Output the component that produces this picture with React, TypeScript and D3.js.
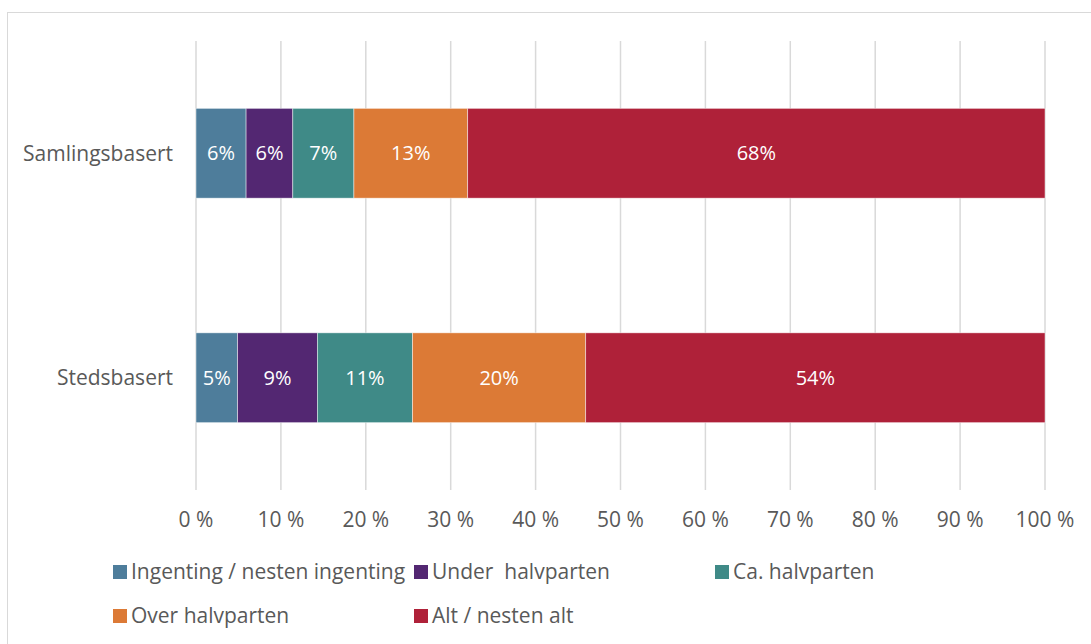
import React, { useEffect, useRef } from 'react';
import * as d3 from 'd3';

const categories = ['Samlingsbasert', 'Stedsbasert'];
const seriesNames = ['Ingenting / nesten ingenting', 'Under  halvparten', 'Ca. halvparten', 'Over halvparten', 'Alt / nesten alt'];
const seriesColors = ['#4E7D9B', '#532772', '#3F8A87', '#DC7A36', '#AF2139'];
// share per category, in series order
const samlingsbasert = [5.9, 5.5, 7.2, 13.4, 68.0];
const stedsbasert = [4.9, 9.4, 11.2, 20.4, 54.1];
const labelsSamling = ['6%', '6%', '7%', '13%', '68%'];
const labelsSteds = ['5%', '9%', '11%', '20%', '54%'];
const xTicks = [0, 10, 20, 30, 40, 50, 60, 70, 80, 90, 100];

const W = 1091;
const H = 644;
const FONT = '"Open Sans", sans-serif';
const FS = 21;

export default function App() {
  const ref = useRef<SVGSVGElement>(null);

  useEffect(() => {
    const svg = d3.select(ref.current);
    svg.selectAll('*').remove();

    const left = 196, right = 1045, top = 41, bottom = 490;
    const x = d3.scaleLinear().domain([0, 100]).range([left, right]);
    const y = d3.scaleBand().domain(categories).range([top, bottom]).paddingInner(0.6).paddingOuter(0.3);

    // chart frame
    svg.append('rect')
      .attr('x', 7.5).attr('y', 12.5).attr('width', W).attr('height', H)
      .attr('fill', 'white').attr('stroke', '#D9D9D9').attr('stroke-width', 1);

    // gridlines
    svg.append('g').selectAll('line').data(xTicks).enter().append('line')
      .attr('x1', d => x(d)).attr('x2', d => x(d))
      .attr('y1', top).attr('y2', bottom)
      .attr('stroke', '#D9D9D9').attr('stroke-width', 1.5);

    const rows = [
      { cat: categories[0], values: samlingsbasert, labels: labelsSamling },
      { cat: categories[1], values: stedsbasert, labels: labelsSteds },
    ];

    rows.forEach(row => {
      let acc = 0;
      const segs = row.values.map((v, i) => {
        const s = { x0: acc, x1: acc + v, color: seriesColors[i], label: row.labels[i] };
        acc += v;
        return s;
      });
      const g = svg.append('g');
      g.selectAll('rect').data(segs).enter().append('rect')
        .attr('x', d => x(d.x0)).attr('width', d => x(d.x1) - x(d.x0))
        .attr('y', y(row.cat)!).attr('height', y.bandwidth())
        .attr('fill', d => d.color)
        .attr('stroke', 'rgba(255,255,255,0.6)').attr('stroke-width', 0.75);
      g.selectAll('text').data(segs).enter().append('text')
        .attr('x', d => (x(d.x0) + x(d.x1)) / 2)
        .attr('y', y(row.cat)! + y.bandwidth() / 2)
        .attr('dy', '0.35em')
        .attr('text-anchor', 'middle')
        .attr('fill', 'white')
        .attr('font-size', FS - 1)
        .attr('font-family', FONT)
        .text(d => d.label);
    });

    // category labels
    svg.append('g').selectAll('text').data(categories).enter().append('text')
      .attr('x', left - 23)
      .attr('y', d => y(d)! + y.bandwidth() / 2)
      .attr('dy', '0.35em')
      .attr('text-anchor', 'end')
      .attr('fill', '#595959')
      .attr('font-size', FS)
      .attr('font-family', FONT)
      .text(d => d);

    // x tick labels
    svg.append('g').selectAll('text').data(xTicks).enter().append('text')
      .attr('x', d => x(d))
      .attr('y', 520)
      .attr('dy', '0.35em')
      .attr('text-anchor', 'middle')
      .attr('fill', '#595959')
      .attr('font-size', FS)
      .attr('font-family', FONT)
      .text(d => d + ' %');

    // legend
    const legend = svg.append('g');
    seriesNames.forEach((name, i) => {
      const col = i % 3, r = Math.floor(i / 3);
      const lx = 113 + col * 301, ly = 572 + r * 44;
      legend.append('rect').attr('x', lx).attr('y', ly - 7).attr('width', 14).attr('height', 14).attr('fill', seriesColors[i]);
      legend.append('text')
        .attr('x', lx + 18).attr('y', ly).attr('dy', '0.35em')
        .attr('fill', '#595959').attr('font-size', FS).attr('font-family', FONT)
        .style('white-space', 'pre')
        .text(name);
    });
  }, []);

  return (
    <svg ref={ref} width={W} height={H} style={{ position: 'absolute', left: 0, top: 0 }} />
  );
}
